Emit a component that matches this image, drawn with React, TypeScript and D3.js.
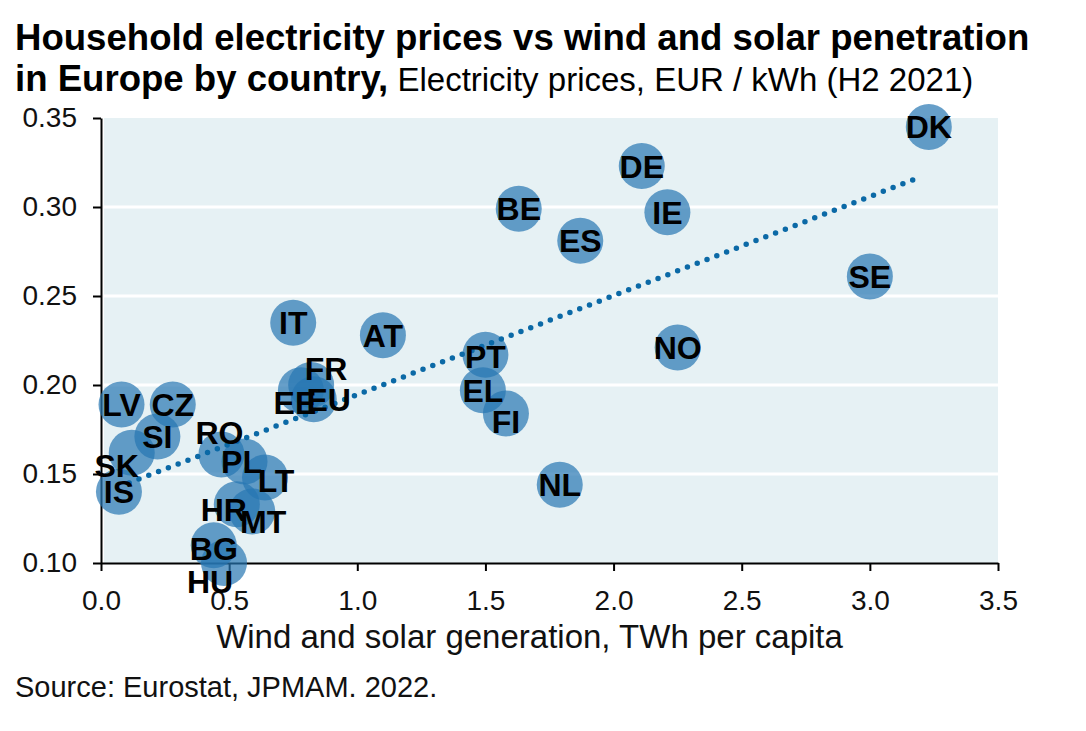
import React, { useEffect, useRef } from 'react';
import { select, scaleLinear, axisBottom, axisLeft, line, format } from 'd3';

// country codes, wind+solar generation (TWh per capita), household price (EUR/kWh)
const countries = ['DK', 'DE', 'BE', 'IE', 'ES', 'SE', 'IT', 'AT', 'PT', 'NO', 'EL', 'FI', 'NL', 'FR', 'EE', 'EU', 'LV', 'CZ', 'SI', 'SK', 'IS', 'RO', 'PL', 'LT', 'HR', 'MT', 'BG', 'HU'];
const windSolar = [3.23, 2.11, 1.63, 2.21, 1.87, 3.0, 0.75, 1.1, 1.5, 2.25, 1.49, 1.58, 1.79, 0.82, 0.78, 0.83, 0.08, 0.28, 0.22, 0.12, 0.07, 0.47, 0.56, 0.64, 0.53, 0.59, 0.44, 0.48];
const prices = [0.345, 0.323, 0.299, 0.297, 0.281, 0.261, 0.235, 0.228, 0.217, 0.221, 0.197, 0.184, 0.144, 0.2, 0.197, 0.192, 0.189, 0.189, 0.171, 0.162, 0.14, 0.161, 0.157, 0.148, 0.133, 0.129, 0.11, 0.1];

const xTicks = [0, 0.5, 1.0, 1.5, 2.0, 2.5, 3.0, 3.5];
const yTicks = [0.1, 0.15, 0.2, 0.25, 0.3, 0.35];

// dotted trend line, start and end
const trendX = [0.11, 3.2];
const trendY = [0.145, 0.317];

// label nudges (px) where bubbles are crowded
const labelNudge: Record<string, [number, number]> = {
    FR: [15, -17], EE: [-6, 12], EU: [15, 0], SK: [-15, 13], RO: [-2, -22],
    PL: [-3, 0], LT: [11, 3], HR: [-13, 5], MT: [11, 10], HU: [-14, 18],
    FI: [0, 8], BG: [0, 3], PT: [0, 2],
};

const FONT = "'Liberation Sans', Arial, Helvetica, sans-serif";

export default function App() {
    const svgRef = useRef<SVGSVGElement>(null);

    useEffect(() => {
        if (!svgRef.current) return;
        const svg = select(svgRef.current);
        svg.html('');

        const left = 101, right = 998, top = 118, bottom = 563;
        const x = scaleLinear().domain([0, 3.5]).range([left, right]);
        const y = scaleLinear().domain([0.1, 0.35]).range([bottom, top]);

        // title
        const title = svg.append('g').style('font-family', FONT).style('fill', '#000');
        title.append('text')
            .attr('x', 15).attr('y', 50)
            .style('font-size', '36.6px').style('font-weight', 'bold')
            .text('Household electricity prices vs wind and solar penetration');
        const t2 = title.append('text').attr('x', 15).attr('y', 91);
        t2.append('tspan').style('font-size', '36.6px').style('font-weight', 'bold').text('in Europe by country,');
        t2.append('tspan').style('font-size', '33px').text(' Electricity prices, EUR / kWh (H2 2021)');

        // plot background + grid
        svg.append('rect')
            .attr('x', left + 3).attr('y', top)
            .attr('width', right - left - 3).attr('height', bottom - top)
            .style('fill', '#e6f1f4');

        svg.append('g')
            .selectAll('line')
            .data(yTicks.filter(d => d > 0.1 && d < 0.35))
            .enter().append('line')
            .attr('x1', left + 3).attr('x2', right)
            .attr('y1', d => y(d)).attr('y2', d => y(d))
            .style('stroke', '#fff').style('stroke-width', 3);

        // axes
        const xAxis = svg.append('g')
            .attr('transform', `translate(0, ${bottom})`)
            .call(axisBottom(x).tickValues(xTicks).tickFormat(format('.1f')).tickSize(8).tickSizeOuter(0).tickPadding(19));
        const yAxis = svg.append('g')
            .attr('transform', `translate(${left}, 0)`)
            .call(axisLeft(y).tickValues(yTicks).tickFormat(format('.2f')).tickSize(8).tickSizeOuter(0).tickPadding(16));
        [xAxis, yAxis].forEach(a => {
            a.selectAll('path, line').style('stroke', '#000').style('stroke-width', 2);
            a.selectAll('text').style('font-family', FONT).style('font-size', '28px').style('fill', '#111');
        });

        // bubbles
        const points = countries.map((c, i) => ({ c, x: windSolar[i], y: prices[i] }));
        svg.append('g')
            .selectAll('circle')
            .data(points)
            .enter().append('circle')
            .attr('cx', d => x(d.x))
            .attr('cy', d => y(d.y))
            .attr('r', 23)
            .style('fill', '#2776b2')
            .style('opacity', 0.7);

        // trend line
        const trend = trendX.map((v, i) => [v, trendY[i]] as [number, number]);
        svg.append('path')
            .attr('d', line<[number, number]>().x(d => x(d[0])).y(d => y(d[1]))(trend))
            .style('fill', 'none')
            .style('stroke', '#0b69a6')
            .style('stroke-width', 5.5)
            .style('stroke-linecap', 'round')
            .style('stroke-dasharray', '0 10.5');

        // labels
        svg.append('g')
            .selectAll('text')
            .data(points)
            .enter().append('text')
            .attr('x', d => x(d.x) + (labelNudge[d.c]?.[0] ?? 0))
            .attr('y', d => y(d.y) + (labelNudge[d.c]?.[1] ?? 0))
            .attr('dy', '0.36em')
            .attr('text-anchor', 'middle')
            .style('font-family', FONT)
            .style('font-size', '32px')
            .style('font-weight', 'bold')
            .style('fill', '#000')
            .text(d => d.c);

        // axis title + source
        svg.append('text')
            .attr('x', (left + right) / 2 - 20).attr('y', 648)
            .attr('text-anchor', 'middle')
            .style('font-family', FONT).style('font-size', '33px').style('fill', '#111')
            .text('Wind and solar generation, TWh per capita');
        svg.append('text')
            .attr('x', 15).attr('y', 697)
            .style('font-family', FONT).style('font-size', '29px').style('fill', '#111')
            .text('Source: Eurostat, JPMAM. 2022.');
    }, []);

    return (
        <svg
            ref={svgRef}
            width={1086}
            height={731}
            style={{ position: 'absolute', left: 0, top: 0, background: '#fff' }}
        />
    );
}
